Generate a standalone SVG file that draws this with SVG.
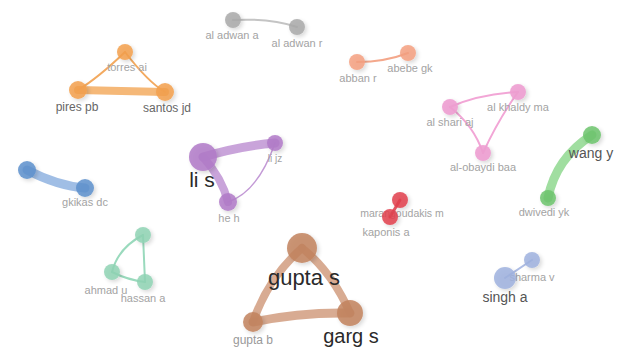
<svg xmlns="http://www.w3.org/2000/svg" width="619" height="349" viewBox="0 0 619 349">
<defs>
<filter id="soft" x="-50%" y="-50%" width="200%" height="200%">
<feGaussianBlur in="SourceAlpha" stdDeviation="2"/>
<feOffset dx="1.5" dy="1.5" result="b"/>
<feComponentTransfer><feFuncA type="linear" slope="0.18"/></feComponentTransfer>
<feMerge><feMergeNode/><feMergeNode in="SourceGraphic"/></feMerge>
</filter>
</defs>
<style>
text{font-family:"Liberation Sans",Arial,sans-serif;text-anchor:middle}
.s{font-size:11px;fill:#a3a3a3}
.m{font-size:14px;fill:#555}
.b{font-size:21px;fill:#2a2a2a}
.e{fill:none;stroke-linecap:round}
circle{filter:url(#soft)}
.or{fill:#f3a04c;fill-opacity:.85}
.gy{fill:#a9a9a9;fill-opacity:.85}
.sa{fill:#f4a080;fill-opacity:.85}
.pk{fill:#ee9fd2;fill-opacity:.9}
.gr{fill:#6cc46c;fill-opacity:.85}
.bl{fill:#5d90cc;fill-opacity:.85}
.pu{fill:#b07ac8;fill-opacity:.85}
.rd{fill:#e2404e;fill-opacity:.85}
.tl{fill:#8fd4b4;fill-opacity:.85}
.pw{fill:#9fb1de;fill-opacity:.85}
.br{fill:#c2835e;fill-opacity:.85}
</style>
<rect width="619" height="349" fill="#ffffff"/>
<g id="connectors">
<path class="e" d="M78 90 L165 92" stroke="#f5b878" stroke-width="8"/>
<path class="e" d="M125 52 Q98 78 78 90" stroke="#f3aa60" stroke-width="2"/>
<path class="e" d="M125 52 Q148 82 165 92" stroke="#f3aa60" stroke-width="2"/>
<path class="e" d="M233 20 Q270 18 297 27" stroke="#c4c4c4" stroke-width="2"/>
<path class="e" d="M357 62 Q385 62 408 53" stroke="#f4a88c" stroke-width="2"/>
<path class="e" d="M450 107 Q480 94 518 92" stroke="#f2a6d6" stroke-width="2"/>
<path class="e" d="M450 107 Q474 126 483 153" stroke="#f2a6d6" stroke-width="2"/>
<path class="e" d="M518 92 Q498 120 483 153" stroke="#f2a6d6" stroke-width="2"/>
<path class="e" d="M592 135 Q556 158 548 198" stroke="#8fd88f" stroke-width="9" stroke-opacity=".85"/>
<path class="e" d="M27 170 Q58 186 85 188" stroke="#8fb3e0" stroke-width="9" stroke-opacity=".85"/>
<path class="e" d="M203 157 Q240 146 275 143" stroke="#c39ad6" stroke-width="9" stroke-opacity=".9"/>
<path class="e" d="M203 157 Q222 178 228 202" stroke="#c39ad6" stroke-width="8" stroke-opacity=".9"/>
<path class="e" d="M275 143 Q258 192 228 202" stroke="#c39ad6" stroke-width="1.5"/>
<path class="e" d="M400 200 L390 217" stroke="#e85a66" stroke-width="3"/>
<path class="e" d="M143 235 Q118 248 112 272" stroke="#9adabd" stroke-width="2"/>
<path class="e" d="M143 235 Q144 258 145 282" stroke="#9adabd" stroke-width="2"/>
<path class="e" d="M112 272 Q128 280 145 282" stroke="#9adabd" stroke-width="2"/>
<path class="e" d="M532 260 L505 278" stroke="#aebde4" stroke-width="2"/>
<path class="e" d="M302 248 Q268 278 253 322" stroke="#d4a286" stroke-width="8" stroke-opacity=".9"/>
<path class="e" d="M302 248 Q332 272 350 313" stroke="#d4a286" stroke-width="8" stroke-opacity=".9"/>
<path class="e" d="M253 322 Q300 312 350 313" stroke="#d4a286" stroke-width="9" stroke-opacity=".9"/>
</g>
<g id="n-torres-ai"><circle class="or" cx="125" cy="52" r="8"/><text class="s" x="127" y="71">torres ai</text></g>
<g id="n-pires-pb"><circle class="or" cx="78" cy="90" r="9"/><text class="m" x="77" y="111" style="font-size:12px;fill:#666">pires pb</text></g>
<g id="n-santos-jd"><circle class="or" cx="165" cy="92" r="9"/><text class="m" x="167" y="112" style="font-size:12px;fill:#666">santos jd</text></g>
<g id="n-al-adwan-a"><circle class="gy" cx="233" cy="20" r="8"/><text class="s" x="232" y="39">al adwan a</text></g>
<g id="n-al-adwan-r"><circle class="gy" cx="297" cy="27" r="8"/><text class="s" x="297" y="47">al adwan r</text></g>
<g id="n-abban-r"><circle class="sa" cx="357" cy="62" r="8"/><text class="s" x="358" y="82">abban r</text></g>
<g id="n-abebe-gk"><circle class="sa" cx="408" cy="53" r="8"/><text class="s" x="410" y="72">abebe gk</text></g>
<g id="n-al-khaldy-ma"><circle class="pk" cx="518" cy="92" r="8"/><text class="s" x="518" y="111">al khaldy ma</text></g>
<g id="n-al-shari-aj"><circle class="pk" cx="450" cy="107" r="8"/><text class="s" x="450" y="126">al shari aj</text></g>
<g id="n-al-obaydi-baa"><circle class="pk" cx="483" cy="153" r="8"/><text class="s" x="483" y="171">al-obaydi baa</text></g>
<g id="n-wang-y"><circle class="gr" cx="592" cy="135" r="9"/><text class="m" x="591" y="158">wang y</text></g>
<g id="n-dwivedi-yk"><circle class="gr" cx="548" cy="198" r="8"/><text class="s" x="544" y="216">dwivedi yk</text></g>
<g id="n-blue-1"><circle class="bl" cx="27" cy="170" r="9"/></g>
<g id="n-gkikas-dc"><circle class="bl" cx="85" cy="188" r="9"/><text class="s" x="85" y="206">gkikas dc</text></g>
<g id="n-li-s"><circle class="pu" cx="203" cy="157" r="14"/><text class="b" x="202" y="187">li s</text></g>
<g id="n-li-jz"><circle class="pu" cx="275" cy="143" r="8"/><text class="s" x="275" y="162" style="font-size:10px">li jz</text></g>
<g id="n-he-h"><circle class="pu" cx="228" cy="202" r="9"/><text class="s" x="229" y="222">he h</text></g>
<g id="n-marangoudakis-m"><circle class="rd" cx="400" cy="200" r="8"/><text class="s" x="402" y="217" style="font-size:10.5px">marangoudakis m</text></g>
<g id="n-kaponis-a"><circle class="rd" cx="390" cy="217" r="8"/><text class="s" x="386" y="236">kaponis a</text></g>
<g id="n-teal-top"><circle class="tl" cx="143" cy="235" r="8"/></g>
<g id="n-ahmad-u"><circle class="tl" cx="112" cy="272" r="8"/><text class="s" x="106" y="294">ahmad u</text></g>
<g id="n-hassan-a"><circle class="tl" cx="145" cy="282" r="8"/><text class="s" x="143" y="302">hassan a</text></g>
<g id="n-sharma-v"><circle class="pw" cx="532" cy="260" r="8"/><text class="s" x="532" y="281">sharma v</text></g>
<g id="n-singh-a"><circle class="pw" cx="505" cy="278" r="11"/><text class="m" x="505" y="302">singh a</text></g>
<g id="n-gupta-s"><circle class="br" cx="302" cy="248" r="15"/><text class="b" x="304" y="285" style="font-size:22px">gupta s</text></g>
<g id="n-garg-s"><circle class="br" cx="350" cy="313" r="13"/><text class="b" x="351" y="343" style="font-size:20px">garg s</text></g>
<g id="n-gupta-b"><circle class="br" cx="253" cy="322" r="10"/><text class="s" x="253" y="344" style="font-size:12px;fill:#999">gupta b</text></g>
</svg>
